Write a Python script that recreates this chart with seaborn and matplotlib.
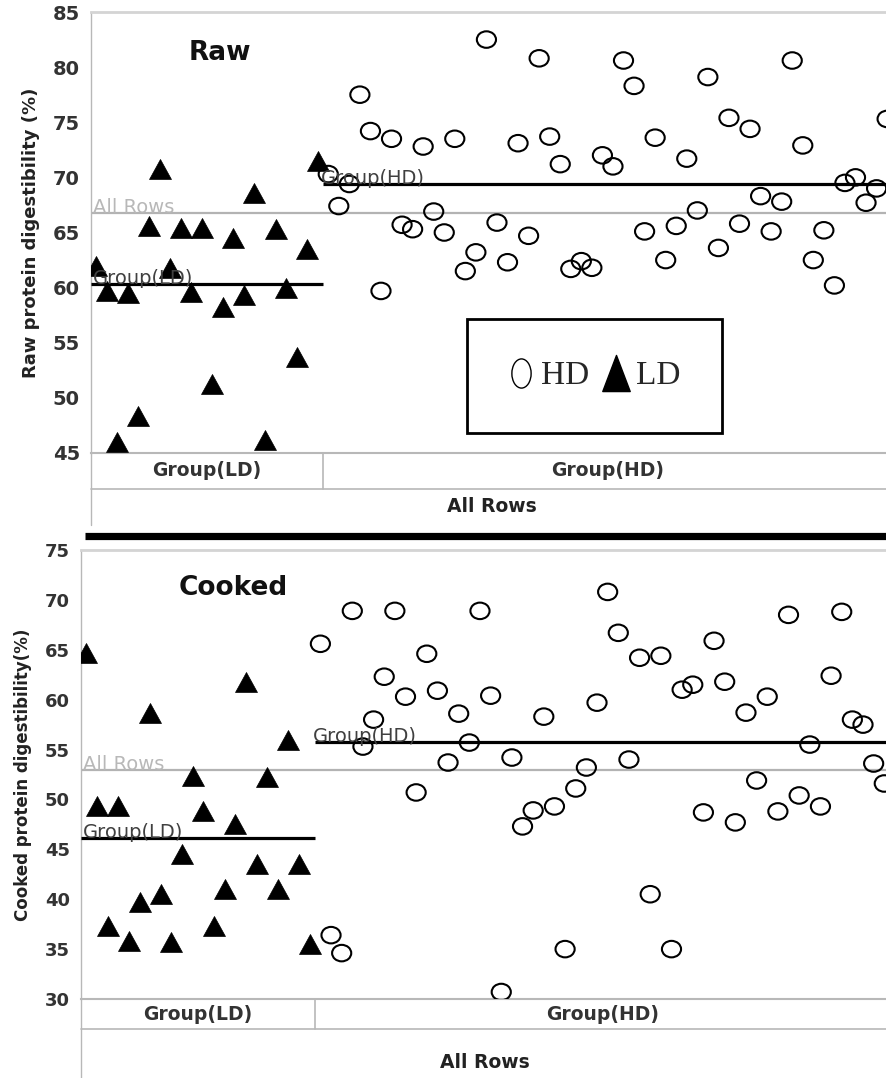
import numpy as np
import pandas as pd
import matplotlib
matplotlib.use("Agg")
import matplotlib.pyplot as plt
from matplotlib.path import Path
from matplotlib.lines import Line2D
import seaborn as sns

# ---------------- data ----------------
groups = ["LD", "HD"]

raw_ld = [62.0, 59.7, 46.0, 59.5, 48.4, 65.6, 70.8, 61.8, 65.4, 59.6, 65.4,
          51.3, 58.2, 64.5, 59.3, 68.6, 46.2, 65.3, 60.0, 53.7, 63.5, 71.5]
raw_hd = [70.3, 67.4, 69.4, 77.5, 74.2, 59.7, 73.5, 65.7, 65.3, 72.8,
          66.9, 65.0, 73.5, 61.5, 63.2, 82.5, 65.9, 62.3, 73.1, 64.7,
          80.8, 73.7, 71.2, 61.7, 62.4, 61.8, 72.0, 71.0, 80.6, 78.3,
          65.1, 73.6, 62.5, 65.6, 71.7, 67.0, 79.1, 63.6, 75.4, 65.8,
          74.4, 68.3, 65.1, 67.8, 80.6, 72.9, 62.5, 65.2, 60.2, 69.5,
          70.0, 67.7, 69.0, 75.3]

cooked_ld = [64.7, 49.3, 37.3, 49.3, 35.8, 39.7, 58.7, 40.5, 35.7, 44.5, 52.3,
             48.8, 37.3, 41.0, 47.5, 61.8, 43.5, 52.2, 41.0, 56.0, 43.5, 35.5]
cooked_hd = [65.6, 36.4, 34.6, 68.9, 55.3, 58.0, 62.3, 68.9, 60.3, 50.7,
             64.6, 60.9, 53.7, 58.6, 55.7, 68.9, 60.4, 30.7, 54.2, 47.3,
             48.9, 58.3, 49.3, 35.0, 51.1, 53.2, 59.7, 70.8, 66.7, 54.0,
             64.2, 40.5, 64.4, 35.0, 61.0, 61.5, 48.7, 65.9, 61.8, 47.7,
             58.7, 51.9, 60.3, 48.8, 68.5, 50.4, 55.5, 49.3, 62.4, 68.8,
             58.0, 57.5, 53.6, 51.6]

raw_yticks = [45, 50, 55, 60, 65, 70, 75, 80, 85]
cooked_yticks = [30, 35, 40, 45, 50, 55, 60, 65, 70, 75]

# ---------------- style ----------------
sns.set_style("white")
plt.rcParams["font.family"] = ["DejaVu Sans"]

W, H = 886, 1078
fig = plt.figure(figsize=(W / 100, H / 100), dpi=100)


def add_axes_px(left, top, right, bottom):
    return fig.add_axes([left / W, 1 - bottom / H, (right - left) / W, (bottom - top) / H])


uc = Path.unit_circle()
ellipse = Path(uc.vertices * np.array([1.16, 1.0]), uc.codes)
tri_codes = [Path.MOVETO, Path.LINETO, Path.LINETO, Path.CLOSEPOLY]
triangle = Path([(-0.55, -0.5), (0.55, -0.5), (0.0, 0.5), (-0.55, -0.5)], tri_codes)


def make_df(ld, hd):
    vals = list(ld) + list(hd)
    grp = ["LD"] * len(ld) + ["HD"] * len(hd)
    df = pd.DataFrame({"group": grp, "value": vals})
    df["pos"] = np.arange(len(df)) + 0.5
    return df


panels = [
    dict(ld=raw_ld, hd=raw_hd, yticks=raw_yticks, title="Raw",
         ylabel="Raw protein digestibility (%)", box=(91, 12, 892.4, 453),
         tick_fs=14, ylab_fs=13, ylab_x=40, title_xy=(220, 53),
         row_h=36, allrows_y=54, axis_ext=72),
    dict(ld=cooked_ld, hd=cooked_hd, yticks=cooked_yticks, title="Cooked",
         ylabel="Cooked protein digestibility(%)", box=(81, 550, 889.6, 999),
         tick_fs=13, ylab_fs=12, ylab_x=32, title_xy=(233, 588),
         row_h=30, allrows_y=63, axis_ext=79),
]

grid_col = "#b8b8b8"

for p in panels:
    l, t, r, b = p["box"]
    ax = add_axes_px(l, t, r, b)
    hpx = b - t
    df = make_df(p["ld"], p["hd"])
    n_ld, n_all = len(p["ld"]), len(df)

    # reference (mean) lines
    all_mean = df["value"].mean()
    ld_mean = np.mean(p["ld"])
    hd_mean = np.mean(p["hd"])
    ax.hlines(all_mean, 0, n_all, color="#b3b3b3", lw=1.6, zorder=1)
    ax.hlines(ld_mean, 0, n_ld, color="black", lw=2.3, zorder=4)
    ax.hlines(hd_mean, n_ld, n_all, color="black", lw=2.3, zorder=4)
    ax.text(0.15, all_mean, "All Rows", color="#b8b8b8", fontsize=14,
            va="baseline", ha="left", zorder=5)
    ax.text(0.15, ld_mean, "Group(LD)", color="#404040", fontsize=14,
            va="baseline", ha="left", zorder=5)
    ax.text(n_ld - 0.2, hd_mean, "Group(HD)", color="#404040", fontsize=14,
            va="baseline", ha="left", zorder=5)

    # points
    sns.scatterplot(data=df[df["group"] == "HD"], x="pos", y="value", ax=ax,
                    marker=ellipse, s=190, color="black", facecolor="none",
                    edgecolor="black", linewidth=1.5, legend=False, zorder=3)
    sns.scatterplot(data=df[df["group"] == "LD"], x="pos", y="value", ax=ax,
                    marker=triangle, s=250, color="black", edgecolor="black",
                    linewidth=0.5, legend=False, zorder=3)

    ax.set_xlim(0, n_all)
    ax.set_ylim(p["yticks"][0], p["yticks"][-1])
    ax.set_yticks(p["yticks"])
    ax.set_yticklabels([str(v) for v in p["yticks"]], fontweight="bold")
    ax.set_xticks([])
    ax.set_xlabel("")
    ax.tick_params(axis="y", direction="out", length=6, width=1,
                   color="#a0a0a0", labelsize=p["tick_fs"], labelcolor="#333333", pad=2)
    ax.set_ylabel(p["ylabel"], fontsize=p["ylab_fs"], fontweight="bold", color="#222222")
    ax.yaxis.set_label_coords((p["ylab_x"] - l) / (r - l), 0.5)

    ax.spines["right"].set_visible(False)
    ax.spines["left"].set_color(grid_col)
    ax.spines["left"].set_linewidth(1.0)
    ax.spines["top"].set_color("#d4d4d4")
    ax.spines["top"].set_linewidth(2.0)
    ax.spines["bottom"].set_color(grid_col)
    ax.spines["bottom"].set_linewidth(1.5)

    # title
    tx, ty = p["title_xy"]
    ax.text((tx - l) / (r - l), (b - ty) / hpx, p["title"], transform=ax.transAxes,
            fontsize=19, fontweight="bold", ha="center", va="center", color="#111111")

    # group label row below the axis
    tr = ax.get_xaxis_transform()
    yrow = -p["row_h"] / hpx
    ax.plot([0, n_all], [yrow, yrow], transform=tr, color=grid_col, lw=1.2, clip_on=False)
    ax.plot([n_ld, n_ld], [0, yrow], transform=tr, color=grid_col, lw=1.2, clip_on=False)
    ax.plot([0, 0], [0, -p["axis_ext"] / hpx], transform=tr, color=grid_col, lw=1.0, clip_on=False)
    ax.text(n_ld / 2, yrow / 2, "Group(LD)", transform=tr, ha="center", va="center",
            fontsize=13.5, fontweight="bold", color="#333333")
    ax.text((n_ld + n_all) / 2, yrow / 2, "Group(HD)", transform=tr, ha="center", va="center",
            fontsize=13.5, fontweight="bold", color="#333333")
    ax.text(n_all / 2, -p["allrows_y"] / hpx, "All Rows", transform=tr, ha="center",
            va="center", fontsize=13.5, fontweight="bold", color="#222222")

    if p["title"] == "Raw":
        tall_ellipse = Path(uc.vertices * np.array([0.66, 1.0]), uc.codes)
        tall_tri = Path([(-0.38, -0.5), (0.38, -0.5), (0.0, 0.5), (-0.38, -0.5)], tri_codes)
        h1 = Line2D([], [], ls="none", marker=tall_ellipse, markersize=21,
                    markerfacecolor="none", markeredgecolor="black", markeredgewidth=1.0)
        h2 = Line2D([], [], ls="none", marker=tall_tri, markersize=26, color="black")
        leg = fig.legend([h1, h2], ["HD", "LD"], ncol=2, loc="center",
                         bbox_to_anchor=(594.5 / W, 1 - 376 / H),
                         prop={"family": "Liberation Serif", "size": 24},
                         frameon=True, fancybox=False, edgecolor="black",
                         borderpad=1.25, handlelength=0.7, handletextpad=0.25,
                         columnspacing=0.45, framealpha=1)
        leg.get_frame().set_linewidth(2)

# thick separator between panels
fig.add_artist(Line2D([85 / W, 1.0], [1 - 536 / H, 1 - 536 / H], transform=fig.transFigure,
                      color="black", lw=5.2, solid_capstyle="butt"))

fig.savefig("out.png", dpi=100, facecolor="white")
